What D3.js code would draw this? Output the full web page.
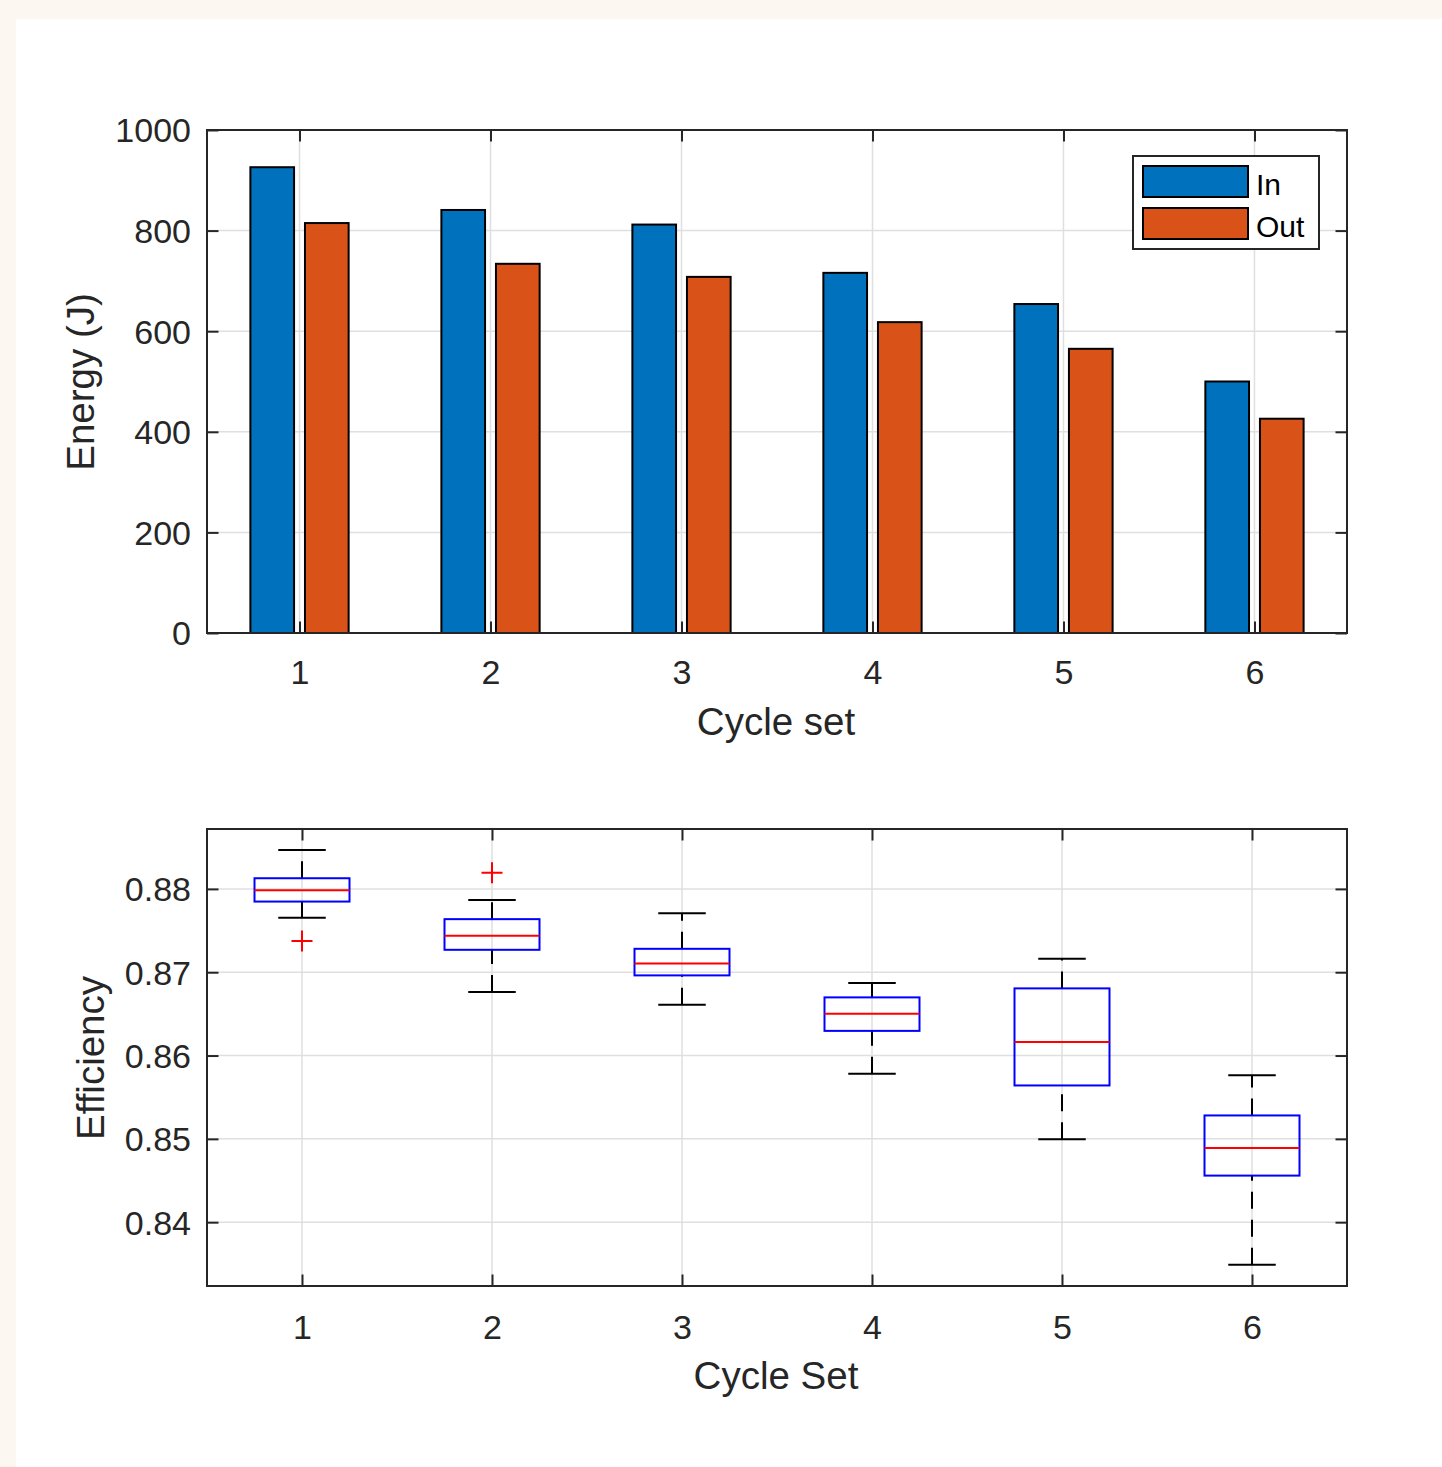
<!DOCTYPE html>
<html>
<head>
<meta charset="utf-8">
<script src="https://cdn.jsdelivr.net/npm/d3@7"></script>
<style>
  html, body { margin: 0; padding: 0; background: #fcf7f0; }
  svg { display: block; }
  text { font-family: "Liberation Sans", Arial, Helvetica, sans-serif; }
</style>
</head>
<body>
<svg id="chart" width="1442" height="1467"></svg>
<script>
// ---------- data ----------
const categories = [1, 2, 3, 4, 5, 6];
const energyIn  = [926, 841, 812, 716, 654, 500];
const energyOut = [815, 734, 708, 618, 565, 426];
const energyTicks = [0, 200, 400, 600, 800, 1000];
const seriesNames = ["In", "Out"];

const effUpperWhisker = [0.88467, 0.87868, 0.87709, 0.86871, 0.87162, 0.85764];
const effQ3           = [0.88128, 0.87637, 0.87281, 0.86698, 0.86806, 0.85281];
const effMedian       = [0.87984, 0.87437, 0.87105, 0.86503, 0.86164, 0.84890];
const effQ1           = [0.87848, 0.87269, 0.86962, 0.86296, 0.85641, 0.84559];
const effLowerWhisker = [0.87653, 0.86763, 0.86611, 0.85781, 0.84994, 0.83489];
const effOutlierCat   = [1, 2];
const effOutlierVal   = [0.87374, 0.88195];
const effTicks = [0.84, 0.85, 0.86, 0.87, 0.88];

// ---------- setup ----------
const svg = d3.select("#chart");
svg.append("rect").attr("x", 16).attr("y", 19).attr("width", 1442 - 16).attr("height", 1467 - 19).attr("fill", "#ffffff");

const AX = "#262626";
const GRID = "#dfdfdf";
const L = 207, R = 1347;
const TICK = 11.5;
const tickFont = 34, labelFont = 38.5, legendFont = 30;
const colIn = "#0072BD", colOut = "#D95319";

function frame(g, top, bottom) {
  g.append("rect").attr("x", L).attr("y", top).attr("width", R - L).attr("height", bottom - top)
    .attr("fill", "none").attr("stroke", AX).attr("stroke-width", 2);
}

function axes(g, x, y, top, bottom, xTicks, yTicks, yFmt, xPad) {
  const yl = g.append("g").attr("transform", `translate(${L},0)`)
    .call(d3.axisLeft(y).tickValues(yTicks).tickFormat(yFmt).tickSize(-TICK).tickPadding(16));
  const yr = g.append("g").attr("transform", `translate(${R},0)`)
    .call(d3.axisRight(y).tickValues(yTicks).tickFormat("").tickSize(-TICK));
  const xb = g.append("g").attr("transform", `translate(0,${bottom})`)
    .call(d3.axisBottom(x).tickValues(xTicks).tickFormat(d3.format("d")).tickSize(-TICK).tickPadding(xPad));
  const xt = g.append("g").attr("transform", `translate(0,${top})`)
    .call(d3.axisTop(x).tickValues(xTicks).tickFormat("").tickSize(-TICK));
  [yl, yr, xb, xt].forEach(a => {
    a.select(".domain").remove();
    a.selectAll(".tick line").attr("stroke", AX).attr("stroke-width", 2);
    a.selectAll(".tick text").attr("fill", AX).style("font-size", tickFont + "px")
      .style("font-family", '"Liberation Sans", Arial, Helvetica, sans-serif');
  });
  yl.selectAll(".tick text").attr("dy", "0.35em");
}

function grid(g, x, y, top, bottom, xTicks, yTicks) {
  g.append("g").selectAll("line.gy").data(yTicks).join("line")
    .attr("x1", L).attr("x2", R).attr("y1", d => y(d)).attr("y2", d => y(d))
    .attr("stroke", GRID).attr("stroke-width", 1.5);
  g.append("g").selectAll("line.gx").data(xTicks).join("line")
    .attr("x1", d => x(d)).attr("x2", d => x(d)).attr("y1", top).attr("y2", bottom)
    .attr("stroke", GRID).attr("stroke-width", 1.5);
}

// ---------- top: bar chart ----------
{
  const top = 130, bottom = 633;
  const g = svg.append("g");
  const x = d3.scaleLinear().domain([0.5156, 6.4844]).range([L, R]);
  const y = d3.scaleLinear().domain([0, 1000]).range([bottom, top]);
  grid(g, x, y, top, bottom, categories, energyTicks);

  const barW = 0.2286, off = 0.1429;
  const series = [energyIn, energyOut];
  const cols = [colIn, colOut];
  series.forEach((vals, si) => {
    const dx = si === 0 ? -off : off;
    g.append("g").selectAll("rect").data(categories).join("rect")
      .attr("x", (c) => x(c + dx - barW / 2))
      .attr("width", (c) => x(c + dx + barW / 2) - x(c + dx - barW / 2))
      .attr("y", (c, i) => y(vals[i]))
      .attr("height", (c, i) => y(0) - y(vals[i]))
      .attr("fill", cols[si]).attr("stroke", "#000").attr("stroke-width", 2);
  });

  axes(g, x, y, top, bottom, categories, energyTicks, d3.format("d"), 27);
  frame(g, top, bottom);

  g.append("text").attr("transform", `translate(94,382) rotate(-90)`).attr("text-anchor", "middle")
    .attr("fill", AX).style("font-size", labelFont + "px").text("Energy (J)");
  g.append("text").attr("x", 776).attr("y", 735).attr("text-anchor", "middle")
    .attr("fill", AX).style("font-size", labelFont + "px").text("Cycle set");

  // legend
  const lg = g.append("g");
  lg.append("rect").attr("x", 1133).attr("y", 156).attr("width", 186).attr("height", 93)
    .attr("fill", "#fff").attr("stroke", AX).attr("stroke-width", 2);
  seriesNames.forEach((name, i) => {
    const yy = 166 + i * 42;
    lg.append("rect").attr("x", 1143).attr("y", yy).attr("width", 105).attr("height", 31)
      .attr("fill", cols[i]).attr("stroke", "#000").attr("stroke-width", 2);
    lg.append("text").attr("x", 1256).attr("y", yy + 29).attr("fill", "#000")
      .style("font-size", legendFont + "px").text(name);
  });
}

// ---------- bottom: box plot ----------
{
  const top = 829, bottom = 1286;
  const g = svg.append("g");
  const x = d3.scaleLinear().domain([0.5, 6.5]).range([L, R]);
  const y = d3.scaleLinear().domain([0.83234, 0.88719]).range([bottom, top]);
  grid(g, x, y, top, bottom, categories, effTicks);

  const boxW = 0.5, capW = 0.25;
  const bg = g.append("g");
  categories.forEach((c, i) => {
    bg.append("line").attr("x1", x(c)).attr("x2", x(c))
      .attr("y1", y(effQ3[i])).attr("y2", y(effUpperWhisker[i]))
      .attr("stroke", "#000").attr("stroke-width", 2).attr("stroke-dasharray", "17,11");
    bg.append("line").attr("x1", x(c)).attr("x2", x(c))
      .attr("y1", y(effLowerWhisker[i])).attr("y2", y(effQ1[i]))
      .attr("stroke", "#000").attr("stroke-width", 2).attr("stroke-dasharray", "17,11");
    [effUpperWhisker[i], effLowerWhisker[i]].forEach(v => {
      bg.append("line").attr("x1", x(c - capW / 2)).attr("x2", x(c + capW / 2))
        .attr("y1", y(v)).attr("y2", y(v)).attr("stroke", "#000").attr("stroke-width", 2);
    });
    bg.append("rect").attr("x", x(c - boxW / 2)).attr("width", x(c + boxW / 2) - x(c - boxW / 2))
      .attr("y", y(effQ3[i])).attr("height", y(effQ1[i]) - y(effQ3[i]))
      .attr("fill", "none").attr("stroke", "#0000ff").attr("stroke-width", 2);
    bg.append("line").attr("x1", x(c - boxW / 2)).attr("x2", x(c + boxW / 2))
      .attr("y1", y(effMedian[i])).attr("y2", y(effMedian[i]))
      .attr("stroke", "#ff0000").attr("stroke-width", 2);
  });
  effOutlierCat.forEach((c, i) => {
    const cx = x(c), cy = y(effOutlierVal[i]), s = 10.5;
    bg.append("path").attr("d", `M${cx - s},${cy}H${cx + s}M${cx},${cy - s}V${cy + s}`)
      .attr("stroke", "#ff0000").attr("stroke-width", 2).attr("fill", "none");
  });

  axes(g, x, y, top, bottom, categories, effTicks, d3.format(".2f"), 29);
  frame(g, top, bottom);

  g.append("text").attr("transform", `translate(104,1058) rotate(-90)`).attr("text-anchor", "middle")
    .attr("fill", AX).style("font-size", labelFont + "px").text("Efficiency");
  g.append("text").attr("x", 776).attr("y", 1389).attr("text-anchor", "middle")
    .attr("fill", AX).style("font-size", labelFont + "px").text("Cycle Set");
}
</script>
</body>
</html>
